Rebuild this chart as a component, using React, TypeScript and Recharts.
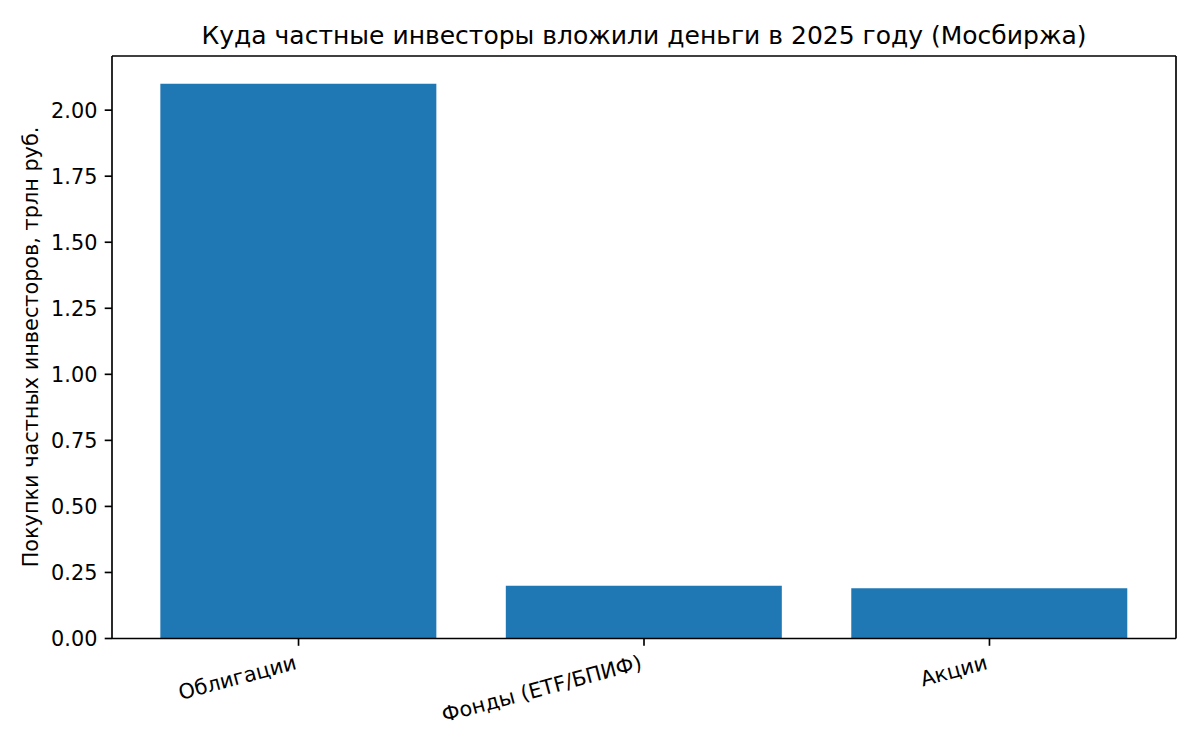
import React from "react";
import { BarChart, Bar, XAxis, YAxis } from "recharts";

const categories = ["Облигации", "Фонды (ETF/БПИФ)", "Акции"];
const purchases = [2.1, 0.2, 0.19];
const yTicks = [0, 0.25, 0.5, 0.75, 1.0, 1.25, 1.5, 1.75, 2.0];
const titleText = "Куда частные инвесторы вложили деньги в 2025 году (Мосбиржа)";
const yLabelText = "Покупки частных инвесторов, трлн руб.";

const data = categories.map((c, i) => ({ name: c, value: purchases[i] }));

const FONT = "'DejaVu Sans', sans-serif";
const TICK_FS = 20.8;

const XTick = (props: any) => {
  const { x, y, payload } = props;
  const ax = x - 1;
  const ay = y + 23;
  return (
    <text
      x={ax}
      y={ay}
      textAnchor="end"
      fontFamily={FONT}
      fontSize={TICK_FS}
      fill="#000"
      transform={`rotate(-15, ${ax}, ${ay})`}
    >
      {payload.value}
    </text>
  );
};

const YTick = (props: any) => {
  const { x, y, payload } = props;
  return (
    <text
      x={x}
      y={y}
      dy="0.36em"
      textAnchor="end"
      fontFamily={FONT}
      fontSize={TICK_FS}
      fill="#000"
    >
      {Number(payload.value).toFixed(2)}
    </text>
  );
};

export default function App() {
  return (
    <div style={{ position: "absolute", left: 0, top: 0, width: 1200, height: 750, background: "#fff" }}>
      <BarChart
        width={1200}
        height={750}
        data={data}
        margin={{ top: 55, right: 23, bottom: 0, left: 0 }}
        barCategoryGap="10%"
      >
        <XAxis
          dataKey="name"
          xAxisId="bottom"
          height={111.5}
          padding={{ left: 13.8, right: 13.8 }}
          axisLine={{ stroke: "#000", strokeWidth: 1.67 }}
          tickLine={{ stroke: "#000", strokeWidth: 1.67 }}
          tickSize={7.3}
          tickMargin={0}
          tick={<XTick />}
          interval={0}
        />
        <XAxis
          dataKey="name"
          xAxisId="top"
          orientation="top"
          height={1}
          padding={{ left: 13.8, right: 13.8 }}
          tick={false}
          tickLine={false}
          axisLine={{ stroke: "#000", strokeWidth: 1.67 }}
        />
        <YAxis
          yAxisId="left"
          width={112}
          domain={[0, 2.205]}
          ticks={yTicks}
          allowDataOverflow
          axisLine={{ stroke: "#000", strokeWidth: 1.67 }}
          tickLine={{ stroke: "#000", strokeWidth: 1.67 }}
          tickSize={7.3}
          tickMargin={7.3}
          tick={<YTick />}
          interval={0}
        />
        <YAxis
          yAxisId="right"
          orientation="right"
          width={1}
          domain={[0, 2.205]}
          allowDataOverflow
          tick={false}
          tickLine={false}
          axisLine={{ stroke: "#000", strokeWidth: 1.67 }}
        />
        <Bar
          dataKey="value"
          xAxisId="bottom"
          yAxisId="left"
          fill="#1f77b4"
          isAnimationActive={false}
        />
      </BarChart>
      <svg
        width={1200}
        height={750}
        style={{ position: "absolute", left: 0, top: 0, pointerEvents: "none" }}
      >
        <text
          x={644}
          y={44}
          textAnchor="middle"
          fontFamily={FONT}
          fontSize={25}
          fill="#000"
        >
          {titleText}
        </text>
        <text
          x={38}
          y={347}
          textAnchor="middle"
          fontFamily={FONT}
          fontSize={TICK_FS}
          fill="#000"
          transform="rotate(-90, 38, 347)"
        >
          {yLabelText}
        </text>
      </svg>
    </div>
  );
}
